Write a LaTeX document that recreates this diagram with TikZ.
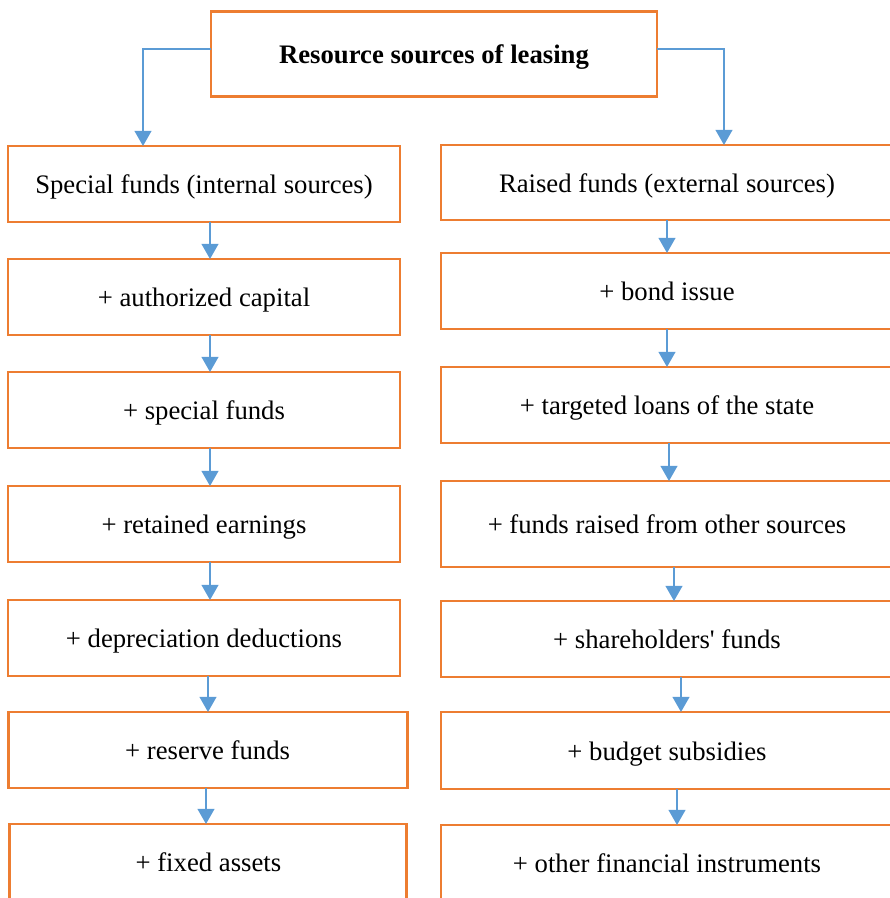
\documentclass[tikz,border=0pt]{standalone}
\usepackage{fontspec}
\setmainfont{Liberation Serif}[Ligatures=TeXOff]
\usetikzlibrary{arrows,arrows.meta,positioning}
\definecolor{boxorange}{RGB}{237,125,49}
\definecolor{linkblue}{RGB}{91,155,213}

\begin{document}
\begin{tikzpicture}
[font=\fontsize{19}{22}\selectfont,
% STYLES
% The head style is used to draw the title box
head/.style={rectangle, draw=boxorange, line width=2pt, outer sep=0pt, text height=19pt, text depth=5pt, minimum width=11.15cm, minimum height=2.125cm, font=\bfseries\fontsize{19}{22}\selectfont},
% The source style is used to draw every box of the two columns
source/.style={rectangle, draw=boxorange, line width=2pt, inner sep=0pt, outer sep=0pt, text height=19pt, text depth=5pt, minimum height=1.9cm},
internal/.style={source, minimum width=9.8cm},
external/.style={source, minimum width=11.3cm},
% The link style is used to draw the blue arrows
link/.style={draw=linkblue, line width=1.5pt, -{Triangle[width=0.42cm,length=0.38cm]}}]

\useasboundingbox (0,0) rectangle (22.25,-22.45);
\clip (0,0) rectangle (22.25,-22.45);

% Draw title
\node [head] (leasing) at (10.85,-1.34) {Resource sources of leasing};

% INTERNAL SOURCES
\node [internal] (special) at (5.1,-4.6) {Special funds (internal sources)};
\node [internal, below=0.925cm of special] (capital) {+ authorized capital};
\node [internal, below=0.925cm of capital] (funds) {+ special funds};
\node [internal, below=0.95cm of funds] (earnings) {+ retained earnings};
\node [internal, below=0.95cm of earnings] (depreciation) {+ depreciation deductions};
\node [internal, minimum width=9.975cm, below=0.9cm of depreciation, xshift=0.09cm] (reserve) {+ reserve funds};
\node [internal, minimum width=9.925cm, below=0.9cm of reserve, xshift=0.02cm] (fixed) {+ fixed assets};

% EXTERNAL SOURCES
\node [external, minimum height=1.875cm] (raised) at (16.675,-4.5625) {Raised funds (external sources)};
\node [external, below=0.825cm of raised] (bond) {+ bond issue};
\node [external, below=0.95cm of bond] (loans) {+ targeted loans of the state};
\node [external, minimum height=2.15cm, below=0.95cm of loans] (other) {+ funds raised from other sources};
\node [external, below=0.85cm of other] (shareholders) {+ shareholders' funds};
\node [external, minimum height=1.925cm, below=0.875cm of shareholders] (subsidies) {+ budget subsidies};
\node [external, below=0.9cm of subsidies] (instruments) {+ other financial instruments};

% Draw the links from the title
\draw [link] ([yshift=0.11cm]leasing.west) -| ([xshift=-1.525cm]special.north);
\draw [link] ([yshift=0.11cm]leasing.east) -| ([xshift=1.425cm]raised.north);

% Draw the links down each column
\foreach \a/\b/\s in {special/capital/0.15, capital/funds/0.15, funds/earnings/0.15,
  earnings/depreciation/0.15, depreciation/reserve/0.1, reserve/fixed/-0.04,
  raised/bond/0, bond/loans/0, loans/other/0.05, other/shareholders/0.175,
  shareholders/subsidies/0.35, subsidies/instruments/0.25}
  \draw [link] ([xshift=\s cm]\a.south) -- ([xshift=\s cm]\a.south |- \b.north);

\end{tikzpicture}
\end{document}
